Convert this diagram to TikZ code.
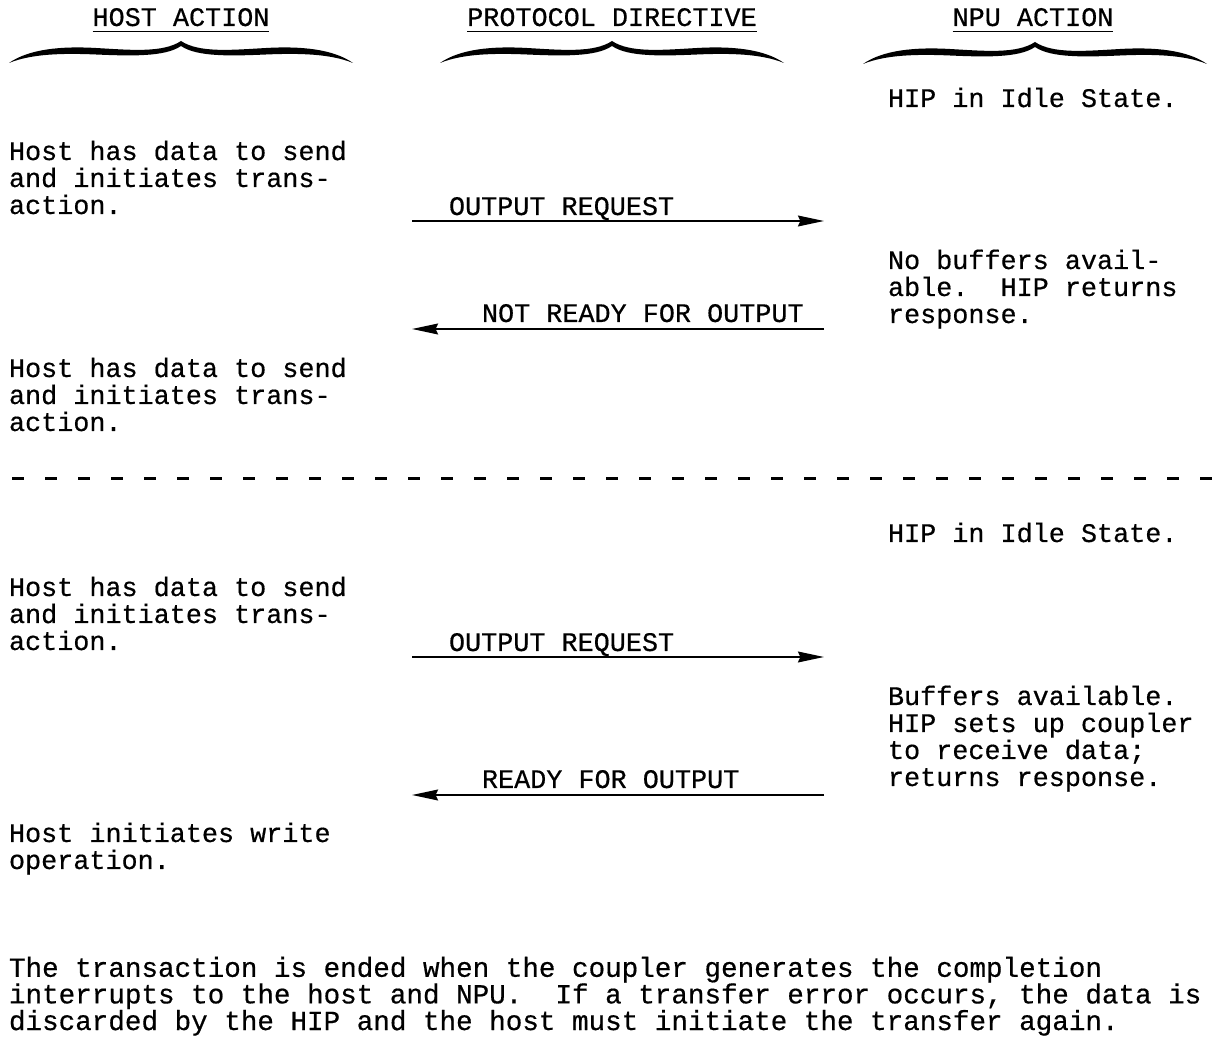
\documentclass[tikz,border=0pt]{standalone}
\usepackage{fontspec}
\newfontfamily\typer[FakeBold=0.5]{Liberation Mono}
\usetikzlibrary{arrows.meta}

\tikzset{
  txt/.style={anchor=base west, inner sep=0pt, outer sep=0pt, align=left,
              font=\typer\fontsize{13.4}{13.5}\selectfont},
  head/.style={anchor=base, inner sep=0pt, outer sep=0pt,
               font=\typer\fontsize{13.4}{13.5}\selectfont},
  para/.style={anchor=base west, inner sep=0pt, outer sep=0pt, align=left,
               font=\typer\fontsize{13.8}{13.3}\selectfont},
  uline/.style={line width=0.8pt},
  msg/.style={line width=1pt, -{Stealth[length=13pt,width=5.4pt,inset=1.2pt]}},
  sep/.style={line width=1.5pt, dash pattern=on 6pt off 10.5pt},
  hbrace/.pic={
    \fill (-172,22) .. controls (-152,8) and (-120,5) .. (-85,7)
                    .. controls (-50,9) and (-18,12) .. (0,0)
                    .. controls (18,12) and (50,9) .. (85,7)
                    .. controls (120,5) and (152,8) .. (172,22)
                    .. controls (150,13) and (120,12) .. (85,13.5)
                    .. controls (50,15) and (16,16) .. (0,5)
                    .. controls (-16,16) and (-50,15) .. (-85,13.5)
                    .. controls (-120,12) and (-150,13) .. (-172,22) -- cycle;
  }
}

\begin{document}
\begin{tikzpicture}[x=0.5pt, y=-0.5pt]
  \useasboundingbox (0,0) rectangle (1212,1037);

  % column headings with their braces
  \node[head] (hhost) at (181,26) {HOST ACTION};
  \node[head] (hprot) at (612,26) {PROTOCOL DIRECTIVE};
  \node[head] (hnpu)  at (1033,26) {NPU ACTION};
  \foreach \h in {hhost,hprot,hnpu}
    \draw[uline] ([yshift=-2.8pt]\h.base west) -- ([yshift=-2.8pt]\h.base east);
  \pic at (181,41) {hbrace};
  \pic at (612,41) {hbrace};
  \pic at (1035,42) {hbrace};

  % multi-line blocks are placed by the baseline of their last line
  % first exchange: output refused
  \node[txt] (n1) at (888,107) {HIP in Idle State.};
  \node[txt] (h1) at (9,214) {Host has data to send\\and initiates trans-\\action.};
  \coordinate (a1l) at (412,221);
  \coordinate (a1r) at (824,221);
  \draw[msg] (a1l) -- (a1r);
  \node[txt] (l1) at (449,215) {OUTPUT REQUEST};
  \node[txt] (n2) at (888,323) {No buffers avail-\\able.\ \ HIP returns\\response.};
  \coordinate (a2r) at (824,329);
  \coordinate (a2l) at (412,329);
  \draw[msg] (a2r) -- (a2l);
  \node[txt] (l2) at (482,322) {NOT READY FOR OUTPUT};
  \node[txt] (h2) at (9,431) {Host has data to send\\and initiates trans-\\action.};

  % separator between the two cases
  \coordinate (sl) at (12,479);
  \coordinate (sr) at (1212,479);
  \draw[sep] (sl) -- (sr);

  % second exchange: output accepted
  \node[txt] (n3) at (888,542) {HIP in Idle State.};
  \node[txt] (h3) at (9,650) {Host has data to send\\and initiates trans-\\action.};
  \coordinate (a3l) at (412,657);
  \coordinate (a3r) at (824,657);
  \draw[msg] (a3l) -- (a3r);
  \node[txt] (l3) at (449,651) {OUTPUT REQUEST};
  \node[txt] (n4) at (888,786) {Buffers available.\\HIP sets up coupler\\to receive data;\\returns response.};
  \coordinate (a4r) at (824,795);
  \coordinate (a4l) at (412,795);
  \draw[msg] (a4r) -- (a4l);
  \node[txt] (l4) at (482,788) {READY FOR OUTPUT};
  \node[txt] (h4) at (9,869) {Host initiates write\\operation.};

  % closing remark
  \node[para] (rem) at (9,1030) {The transaction is ended when the coupler generates the completion\\interrupts to the host and NPU.\ \ If a transfer error occurs, the data is\\discarded by the HIP and the host must initiate the transfer again.};
\end{tikzpicture}
\end{document}
